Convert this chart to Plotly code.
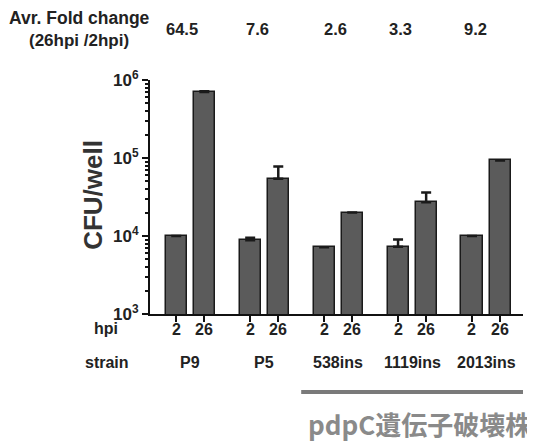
import plotly.graph_objects as go

strains = ["P9", "P5", "538ins", "1119ins", "2013ins"]
fold_change = ["64.5", "7.6", "2.6", "3.3", "9.2"]
hpi_labels = ["2", "26"]
cfu_2hpi = [1.0e4, 8.8e3, 7.2e3, 7.3e3, 1.0e4]
cfu_26hpi = [7.0e5, 5.4e4, 2.0e4, 2.7e4, 9.3e4]
err_2hpi = [0, 700, 0, 1700, 0]
err_26hpi = [15000, 24000, 0, 9000, 0]
y_major = [1e3, 1e4, 1e5, 1e6]
y_major_text = ["10<sup>3</sup>", "10<sup>4</sup>", "10<sup>5</sup>", "10<sup>6</sup>"]

off = 0.19
bw = 0.285
g = list(range(len(strains)))
x2 = [i - off for i in g]
x26 = [i + off for i in g]

FONT = "Liberation Sans, Arial, sans-serif"
bar_color = "#5b5b5b"

fig = go.Figure()
for xs, ys, es in [(x2, cfu_2hpi, err_2hpi), (x26, cfu_26hpi, err_26hpi)]:
    fig.add_trace(go.Bar(
        x=xs, y=ys, width=bw,
        marker=dict(color=bar_color, line=dict(color="#1a1a1a", width=1.5)),
        error_y=dict(type="data", symmetric=False, array=es, arrayminus=[0]*len(es),
                     color="#1a1a1a", thickness=2.5, width=5),
    ))

tickvals = []
for a, b in zip(x2, x26):
    tickvals += [a, b]

minor_vals = [m * 10 ** k for k in range(3, 6) for m in range(2, 10)]

fig.update_layout(
    width=527, height=434,
    margin=dict(l=142, r=12, t=72, b=128),
    paper_bgcolor="white", plot_bgcolor="white",
    showlegend=False,
    font=dict(family=FONT, size=16, color="#222"),
    bargap=0,
)
fig.update_xaxes(
    range=[-0.545, 4.5], tickvals=tickvals, showticklabels=False,
    showline=True, linecolor="#111", linewidth=2,
    ticks="outside", ticklen=6, tickwidth=2, tickcolor="#111",
    showgrid=False, zeroline=False,
)
fig.update_yaxes(
    type="log", range=[3, 6],
    tickvals=y_major, ticktext=y_major_text,
    showline=True, linecolor="#111", linewidth=2,
    ticks="outside", ticklen=6, tickwidth=2, tickcolor="#111",
    tickfont=dict(family=FONT, size=17, color="#222", weight="bold"),
    minor=dict(tickmode="array", tickvals=minor_vals, ticks="outside", ticklen=3,
               tickwidth=1.5, tickcolor="#111", showgrid=False),
    showgrid=False, zeroline=False,
)

def ann(text, x, y, size=16, xref="paper", color="#222", xanchor="center", xshift=0,
        family=FONT, textangle=0):
    fig.add_annotation(text=text, x=x, y=y, xref=xref, yref="paper", showarrow=False,
                       font=dict(family=family, size=size, color=color), xanchor=xanchor,
                       yanchor="middle", xshift=xshift, textangle=textangle)

# header
ann("<b>Avr. Fold change</b>", -0.19, 1.265, size=17.5)
ann("<b>(26hpi /2hpi)</b>", -0.19, 1.167, size=17)
shifts = [-8, -7, -3, -12, -11]
for i, (f, s) in enumerate(zip(fold_change, shifts)):
    ann("<b>%s</b>" % f, i, 1.217, size=16.5, xref="x", xshift=s)

# y title
ann("<b>CFU/well</b>", -0.155, 0.51, size=26, color="#333", textangle=-90)

# row labels
ann("<b>hpi</b>", -0.118, -0.064, size=16)
for xv, lab in zip(tickvals, hpi_labels * len(strains)):
    ann("<b>%s</b>" % lab, xv, -0.066, size=16, xref="x")
ann("<b>strain</b>", -0.115, -0.209, size=16)
for i, s in enumerate(strains):
    ann("<b>%s</b>" % s, i, -0.209, size=16, xref="x")

# group bar and label
fig.add_shape(type="line", xref="x", yref="paper", x0=1.5, x1=len(strains) - 0.47,
              y0=-0.333, y1=-0.333, line=dict(color="#7a7a7a", width=4))
ann("<b>pdpC遺伝子破壊株</b>", 1.027, -0.466, size=26, color="#8a8a8a", xanchor="right",
    family="Noto Sans CJK JP, sans-serif")

fig.write_html("out.html")
